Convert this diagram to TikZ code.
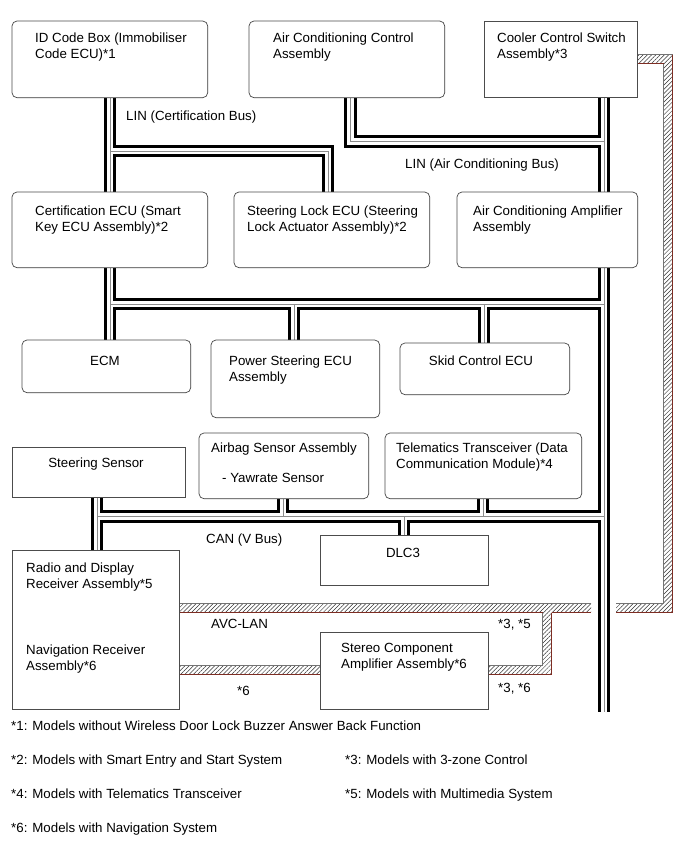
\documentclass[tikz,border=0pt]{standalone}
\usepackage{fontspec}
\setmainfont{Liberation Sans}
\usetikzlibrary{patterns.meta}
\newcommand\twol[2]{\vtop{\hbox{#1}\hbox{#2}}}
\definecolor{avcred}{RGB}{125,45,35}
\begin{document}
\begin{tikzpicture}[x=1pt,y=-1pt,
  box/.style={draw=black!70, line width=0.7pt, rounded corners=5pt, fill=white, inner sep=0pt, anchor=north west},
  sbox/.style={draw=black!70, line width=0.7pt, fill=white, inner sep=0pt, anchor=north west},
  txt/.style={inner sep=0pt, anchor=base west, font=\fontsize{13.3}{16.5}\selectfont},
  ctxt/.style={inner sep=0pt, anchor=base, font=\fontsize{13.3}{16.5}\selectfont},
  busblack/.style={draw=black, line width=12.4pt, line join=miter},
  buswhite/.style={draw=white, line width=6.8pt, line join=miter},
  busgray/.style={draw=black!45, line width=1pt, line join=miter},
  avcfill/.style={pattern={Lines[angle=45,distance=3pt,line width=0.5pt]}, pattern color=black!80},
  avcg/.style={draw=black!55, line width=0.8pt},
  avcr/.style={draw=avcred, line width=0.8pt},
]
\path[fill=white] (0,0) rectangle (690,855);
\useasboundingbox (0,0) rectangle (690,855);

% boxes (named first, redrawn later on top of the buses)
\node[box, minimum width=195pt, minimum height=76pt] (id) at (12,21) {};
\node[box, minimum width=195pt, minimum height=76pt] (acc) at (249,21) {};
\node[sbox, minimum width=153pt, minimum height=76pt] (cool) at (484,21) {};
\node[box, minimum width=195pt, minimum height=75pt] (cert) at (12,192) {};
\node[box, minimum width=195pt, minimum height=75pt] (slock) at (234,192) {};
\node[box, minimum width=180pt, minimum height=75pt] (acamp) at (457,192) {};
\node[box, minimum width=168pt, minimum height=52pt] (ecm) at (22,340) {};
\node[box, minimum width=168pt, minimum height=77pt] (ps) at (211,340) {};
\node[box, minimum width=169pt, minimum height=51pt] (skid) at (400,343) {};
\node[sbox, minimum width=173pt, minimum height=50pt] (ssens) at (12,447) {};
\node[box, minimum width=169pt, minimum height=65pt] (airbag) at (199,433) {};
\node[box, minimum width=196pt, minimum height=65pt] (tele) at (385,433) {};
\node[sbox, minimum width=168pt, minimum height=50pt] (dlc) at (320,535) {};
\node[sbox, minimum width=167pt, minimum height=159pt] (radio) at (12,550) {};
\node[sbox, minimum width=168pt, minimum height=77pt] (stereo) at (320,632) {};

% bus geometry
\coordinate (xL) at (110,0);
\coordinate (xLb) at (328,0);
\coordinate (xAC) at (350.5,0);
\coordinate (xR) at (604,0);
\coordinate (xPS) at (294,0);
\coordinate (xSK) at (484,0);
\coordinate (xL2) at (97,0);
\coordinate (xAB) at (283,0);
\coordinate (xTE) at (483,0);
\coordinate (xDL) at (404,0);
\coordinate (yLC) at (0,151);
\coordinate (yLA) at (0,141.5);
\coordinate (yC1) at (0,304);
\coordinate (yC2) at (0,516.5);
\coordinate (yEnd) at (0,712);

\def\buspaths{
 (xL |- id.south) -- (xL |- cert.north)
 (xL |- yLC) -- (xLb |- yLC) -- (xLb |- slock.north)
 (xAC |- acc.south) -- (xAC |- yLA) -- (xR |- yLA)
 (xR |- cool.south) -- (xR |- acamp.north)
 (xL |- cert.south) -- (xL |- ecm.north)
 (xL |- yC1) -- (xR |- yC1)
 (xPS |- yC1) -- (xPS |- ps.north)
 (xSK |- yC1) -- (xSK |- skid.north)
 (xR |- acamp.south) -- (xR |- yEnd)
 (xL2 |- ssens.south) -- (xL2 |- radio.north)
 (xL2 |- yC2) -- (xR |- yC2)
 (xAB |- yC2) -- (xAB |- airbag.south)
 (xTE |- yC2) -- (xTE |- tele.south)
 (xDL |- yC2) -- (xDL |- dlc.north)
}
\draw[busblack] \buspaths;
\draw[buswhite] \buspaths;
\draw[busgray] \buspaths;

% AVC-LAN bands
\fill[avcfill] (cool.east |- 0,54.5) -- (672.5,54.5) -- (672.5,612.5) -- (616,612.5) -- (616,603.5) -- (663.5,603.5) -- (663.5,63.5) -- (cool.east |- 0,63.5) -- cycle;
\draw[avcg] (cool.east |- 0,54.5) -- (672.5,54.5);
\draw[avcg] (663.5,63.5) -- (663.5,603.5) -- (616,603.5);
\draw[avcr] (cool.east |- 0,63.5) -- (663.5,63.5);
\draw[avcr] (672.5,54.5) -- (672.5,612.5) -- (616,612.5);

\fill[avcfill] (591,603.5) -- (radio.east |- 0,603.5) -- (radio.east |- 0,612.5) -- (542.5,612.5) -- (542.5,665.5) -- (stereo.east |- 0,665.5) -- (stereo.east |- 0,674.5) -- (551.5,674.5) -- (551.5,612.5) -- (591,612.5) -- cycle;
\draw[avcg] (591,603.5) -- (radio.east |- 0,603.5);
\draw[avcg] (542.5,612.5) -- (542.5,665.5) -- (stereo.east |- 0,665.5);
\draw[avcr] (radio.east |- 0,612.5) -- (542.5,612.5);
\draw[avcr] (551.5,612.5) -- (591,612.5);
\draw[avcr] (551.5,612.5) -- (551.5,674.5) -- (stereo.east |- 0,674.5);

\fill[avcfill] (radio.east |- 0,665.5) rectangle (stereo.west |- 0,674.5);
\draw[avcg] (radio.east |- 0,665.5) -- (stereo.west |- 0,665.5);
\draw[avcr] (radio.east |- 0,674.5) -- (stereo.west |- 0,674.5);

% redraw boxes on top
\foreach \n in {id,acc,cert,slock,acamp,ecm,ps,skid,airbag,tele}{
  \draw[black!70, line width=0.7pt, rounded corners=5pt, fill=white] (\n.north west) rectangle (\n.south east);
}
\foreach \n in {cool,ssens,dlc,radio,stereo}{
  \draw[black!70, line width=0.7pt, fill=white] (\n.north west) rectangle (\n.south east);
}

% texts in boxes
\node[txt] (tid) at (35,42) {\twol{ID Code Box (Immobiliser}{Code ECU)*1}};
\node[txt] (tacc) at (273,42) {\twol{Air Conditioning Control}{Assembly}};
\node[txt] (tcool) at (497,42) {\twol{Cooler Control Switch}{Assembly*3}};
\node[txt] (tcert) at (35,215) {\twol{Certification ECU (Smart}{Key ECU Assembly)*2}};
\node[txt] (tslock) at (247,215) {\twol{Steering Lock ECU (Steering}{Lock Actuator Assembly)*2}};
\node[txt] (tacamp) at (473,215) {\twol{Air Conditioning Amplifier}{Assembly}};
\node[ctxt] (tecm) at (105,365) {ECM};
\node[txt] (tps) at (229,365) {\twol{Power Steering ECU}{Assembly}};
\node[ctxt] (tskid) at (481,365) {Skid Control ECU};
\node[ctxt] (tss) at (96,467) {Steering Sensor};
\node[txt] (tab) at (211,452) {Airbag Sensor Assembly};
\node[txt] (tyaw) at (222,482) {- Yawrate Sensor};
\node[txt] (ttele) at (396,452) {\twol{Telematics Transceiver (Data}{Communication Module)*4}};
\node[ctxt] (tdlc) at (403,557) {DLC3};
\node[txt] (tradio) at (26,572) {\twol{Radio and Display}{Receiver Assembly*5}};
\node[txt] (tnav) at (26,654) {\twol{Navigation Receiver}{Assembly*6}};
\node[txt] (tstereo) at (341,652) {\twol{Stereo Component}{Amplifier Assembly*6}};

% bus labels
\node[txt] (llin1) at (126,120) {LIN (Certification Bus)};
\node[txt] (llin2) at (405,168) {LIN (Air Conditioning Bus)};
\node[txt] (lcan) at (206,543) {CAN (V Bus)};
\node[txt] (lavc) at (211,628) {AVC-LAN};
\node[txt] (l6) at (237,695) {*6};
\node[txt] (l35) at (498,628) {*3, *5};
\node[txt] (l36) at (498,692) {*3, *6};

% footnotes
\node[txt] (f1) at (11,730) {*1: Models without Wireless Door Lock Buzzer Answer Back Function};
\node[txt] (f2) at (11,764) {*2: Models with Smart Entry and Start System};
\node[txt] (f3) at (345,764) {*3: Models with 3-zone Control};
\node[txt] (f4) at (11,798) {*4: Models with Telematics Transceiver};
\node[txt] (f5) at (345,798) {*5: Models with Multimedia System};
\node[txt] (f6) at (11,832) {*6: Models with Navigation System};
\end{tikzpicture}
\end{document}
